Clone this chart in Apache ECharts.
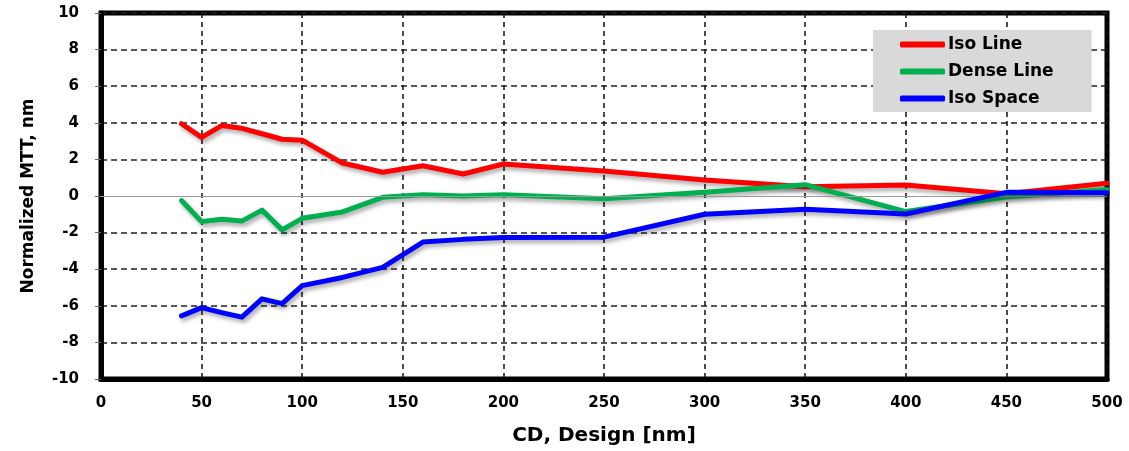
<!DOCTYPE html>
<html>
<head>
<meta charset="utf-8">
<script src="https://cdn.jsdelivr.net/npm/echarts@6/dist/echarts.min.js"></script>
<style>
html,body{margin:0;padding:0;background:#fff;}
#chart{width:1129px;height:451px;}
</style>
</head>
<body>
<div id="chart"></div>
<script>
const cdDesign = [40, 50, 60, 70, 80, 90, 100, 120, 140, 160, 180, 200, 250, 300, 350, 400, 450, 500];
const isoLine = [3.95, 3.2, 3.85, 3.7, 3.4, 3.1, 3.05, 1.8, 1.3, 1.65, 1.2, 1.75, 1.37, 0.88, 0.5, 0.6, 0.12, 0.7];
const denseLine = [-0.25, -1.4, -1.27, -1.37, -0.77, -1.85, -1.22, -0.87, -0.07, 0.07, 0.0, 0.07, -0.15, 0.2, 0.62, -0.85, -0.05, 0.35];
const isoSpace = [-6.55, -6.1, -6.37, -6.62, -5.62, -5.88, -4.9, -4.45, -3.9, -2.52, -2.37, -2.27, -2.25, -1.0, -0.72, -0.98, 0.2, 0.18];
const seriesNames = ['Iso Line', 'Dense Line', 'Iso Space'];
const seriesColors = ['#ff0000', '#00b050', '#0000ff'];
const xTicks = [0, 50, 100, 150, 200, 250, 300, 350, 400, 450, 500];
const yTicks = [-10, -8, -6, -4, -2, 0, 2, 4, 6, 8, 10];

const font = 'DejaVu Sans';
const pairs = arr => cdDesign.map((x, i) => [x, arr[i]]);
const allData = [isoLine, denseLine, isoSpace];

const splitColors = yTicks.map(v => v === 0 ? 'rgba(0,0,0,0)' : '#222');

const chart = echarts.init(document.getElementById('chart'), null, {renderer: 'canvas'});
chart.setOption({
  animation: false,
  backgroundColor: '#fff',
  grid: {
    left: 101, right: 22, top: 13, bottom: 72,
    show: true, borderColor: '#000', borderWidth: 5, backgroundColor: 'transparent'
  },
  legend: {
    orient: 'vertical',
    left: 873, top: 30,
    backgroundColor: '#d9d9d9',
    padding: [6, 38, 5, 27],
    icon: 'roundRect',
    itemWidth: 45, itemHeight: 6, itemGap: 10,
    textStyle: {fontFamily: font, fontWeight: 'bold', fontSize: 17, color: '#000', padding: [0, 0, 0, -2]},
    data: seriesNames
  },
  xAxis: {
    type: 'value', min: 0, max: 500, interval: 50,
    name: 'CD, Design [nm]', nameLocation: 'middle', nameGap: 47,
    nameTextStyle: {fontFamily: font, fontWeight: 'bold', fontSize: 20, color: '#000'},
    axisLine: {show: true, onZero: false, lineStyle: {color: '#000', width: 5}},
    axisTick: {show: false},
    axisLabel: {fontFamily: font, fontWeight: 'bold', fontSize: 15, color: '#000', margin: 17,
      formatter: v => xTicks.includes(v) ? String(v) : ''},
    splitLine: {show: true, lineStyle: {color: '#111', width: 1.5, type: [5, 4]}}
  },
  yAxis: {
    type: 'value', min: -10, max: 10, interval: 2,
    name: 'Normalized MTT, nm', nameLocation: 'middle', nameGap: 64, nameRotate: 90,
    nameTextStyle: {fontFamily: font, fontWeight: 'bold', fontSize: 17, color: '#000'},
    axisLine: {show: true, onZero: false, lineStyle: {color: '#000', width: 5}},
    axisTick: {show: true, inside: false, length: 6, lineStyle: {color: '#666', width: 1}},
    axisLabel: {fontFamily: font, fontWeight: 'bold', fontSize: 15, color: '#000', margin: 22,
      formatter: v => yTicks.includes(v) ? String(v) : ''},
    splitLine: {show: true, lineStyle: {color: splitColors, width: 1.5, type: [6, 4]}}
  },
  series: seriesNames.map((name, i) => ({
    name: name,
    type: 'line',
    data: pairs(allData[i]),
    symbol: 'none',
    color: seriesColors[i],
    lineStyle: {
      color: seriesColors[i], width: 5, cap: 'round', join: 'round',
      shadowColor: 'rgba(0,0,0,0.35)', shadowBlur: 4, shadowOffsetX: 2, shadowOffsetY: 3
    },
    z: 3 + i,
    markLine: i === 0 ? {
      silent: true, symbol: 'none', label: {show: false},
      lineStyle: {color: '#999', width: 1, type: 'solid', shadowBlur: 0, shadowColor: 'transparent', shadowOffsetX: 0, shadowOffsetY: 0},
      data: [{yAxis: 0}]
    } : undefined
  }))
});
</script>
</body>
</html>
